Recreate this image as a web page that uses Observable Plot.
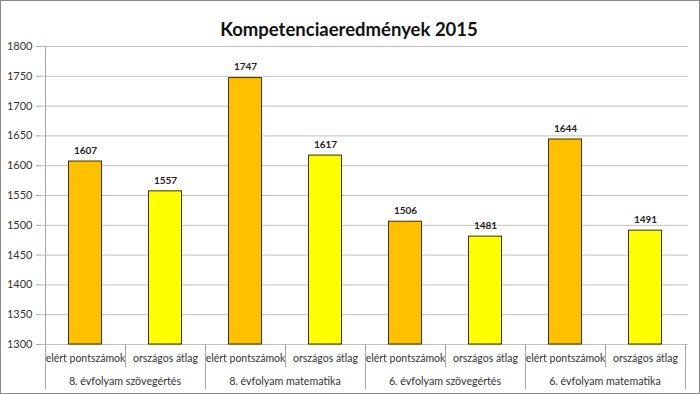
<!DOCTYPE html>
<html><head><meta charset="utf-8">
<script src="https://cdn.jsdelivr.net/npm/d3@7"></script>
<script src="https://cdn.jsdelivr.net/npm/@observablehq/plot@0.6"></script>
<style>
body{margin:0;background:#fff}
#wrap{position:relative;width:700px;height:394px}
#border{position:absolute;left:0;top:0;width:700px;height:394px;box-sizing:border-box;border:1px solid #8a8a8a;pointer-events:none}
</style></head><body><div id="wrap"><div id="border"></div></div>
<script>
const chartTitle = "Kompetenciaeredmények 2015";
const groups = ["8. évfolyam szövegértés", "8. évfolyam matematika", "6. évfolyam szövegértés", "6. évfolyam matematika"];
const seriesNames = ["elért pontszámok", "országos átlag"];
const achieved = [1607, 1747, 1506, 1644];
const national = [1557, 1617, 1481, 1491];
const yTicks = [1300, 1350, 1400, 1450, 1500, 1550, 1600, 1650, 1700, 1750, 1800];
const seriesColors = ["#FFC000", "#FFFF00"];

const data = groups.flatMap((g, i) => [
  {group: g, gi: i, series: seriesNames[0], key: i * 2, value: achieved[i]},
  {group: g, gi: i, series: seriesNames[1], key: i * 2 + 1, value: national[i]}
]);
const keys = data.map(d => d.key);

function separators(index, scales, values, dims) {
  const x = scales.x, y = scales.y;
  const bw = x.bandwidth();
  const y0 = y(yTicks[0]);
  const ns = "http://www.w3.org/2000/svg";
  const g = document.createElementNS(ns, "g");
  for (let i = 0; i <= keys.length; i++) {
    const xx = Math.round(i < keys.length ? x(keys[i]) : x(keys[keys.length - 1]) + bw) + 0.5;
    const line = document.createElementNS(ns, "line");
    line.setAttribute("x1", xx); line.setAttribute("x2", xx);
    line.setAttribute("y1", i === 0 ? dims.marginTop : y0);
    line.setAttribute("y2", i % 2 === 0 ? y0 + 45 : y0 + 23);
    line.setAttribute("stroke", "#a6a6a6");
    g.appendChild(line);
  }
  groups.forEach((name, i) => {
    const cx = x(keys[i * 2]) + bw;
    const t = document.createElementNS(ns, "text");
    t.setAttribute("x", cx); t.setAttribute("y", y0 + 41);
    t.setAttribute("text-anchor", "middle");
    t.setAttribute("fill", "#333");
    t.setAttribute("font-size", "10.7");
    t.textContent = name;
    g.appendChild(t);
  });
  return g;
}

const chart = Plot.plot({
  width: 700, height: 394,
  marginLeft: 41, marginRight: 12, marginTop: 46, marginBottom: 50,
  style: {fontFamily: "Lato, 'Open Sans', sans-serif", fontSize: "11px", color: "#333", background: "transparent"},
  x: {type: "band", domain: keys, padding: 0},
  y: {domain: [1300, 1800]},
  color: {domain: seriesNames, range: seriesColors},
  marks: [
    Plot.gridY(yTicks, {stroke: "#c0c0c0", strokeOpacity: 1}),
    Plot.axisY(yTicks, {tickSize: 5, tickPadding: 4, stroke: "#a6a6a6", label: null, fill: "#333", tickFormat: d => String(d)}),
    Plot.axisX({tickSize: 0, tickPadding: 10, tickFormat: k => data[k].series, label: null, fill: "#333", fontSize: 10.5}),
    Plot.barY(data, {x: "key", y1: yTicks[0], y2: "value", fill: "series", stroke: "#3b3000", strokeWidth: 1, insetLeft: 23.5, insetRight: 23.5}),
    Plot.text(data, {x: "key", y: "value", text: d => String(d.value), dy: -11, fontWeight: "bold", fontSize: 10, fill: "#222"}),
    separators,
    Plot.text([chartTitle], {frameAnchor: "top", dx: -16, dy: -24, fontSize: 18.5, fontWeight: "bold", fill: "#111"})
  ]
});
document.getElementById("wrap").prepend(chart);
</script></body></html>
